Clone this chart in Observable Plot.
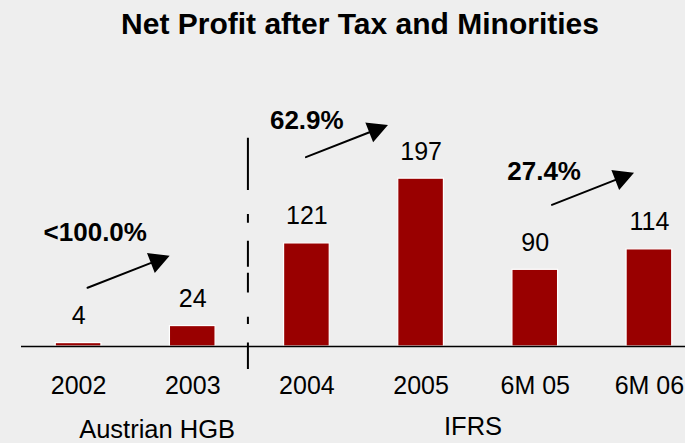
<!DOCTYPE html>
<html>
<head>
<meta charset="utf-8">
<script src="https://cdn.jsdelivr.net/npm/d3@7"></script>
<script src="https://cdn.jsdelivr.net/npm/@observablehq/plot@0.6"></script>
<style>
  html, body { margin: 0; padding: 0; background: #eeeeee; }
  body { width: 685px; height: 443px; overflow: hidden; font-family: "Liberation Sans", Arial, sans-serif; }
  #title { height: 50px; box-sizing: border-box; padding-top: 9px; padding-left: 35px; line-height: 30px;
           font-size: 30px; font-weight: bold; text-align: center; color: #000; }
  #chart svg { display: block; }
</style>
</head>
<body>
<div id="title">Net Profit after Tax and Minorities</div>
<div id="chart"></div>
<script>
// ---- data ----
const categories = ["2002", "2003", "2004", "2005", "6M 05", "6M 06"];
const profits = [4, 24, 121, 197, 90, 114];
const growthLabels = ["<100.0%", "62.9%", "27.4%"];
const growthAnchorCategory = ["2002", "2004", "6M 05"];
const groupLabels = ["Austrian HGB", "IFRS"];
const groupAnchorCategory = ["2002", "2005"];

// ---- annotation layout (data units for y, pixel nudges for x) ----
const arrowStartValue = [68.9, 222.2, 166.3];
const arrowDx = [9, -1, 16.7];
const labelValue = [124.4, 254.7, 195.7];
const labelDx = [-35, -37, -28];
const groupDx = [78.5, 52];
const groupDy = [91.8, 88];

const bars = categories.map((c, i) => ({category: c, value: profits[i]}));

const arrowShape = {
  draw(ctx, l) {
    const hl = 17, hw = 9;
    ctx.moveTo(0, 0);
    ctx.lineTo(0, -(l - hl));
    ctx.moveTo(-hw, -(l - hl));
    ctx.lineTo(0, -l);
    ctx.lineTo(hw, -(l - hl));
    ctx.closePath();
  }
};

const pxPerUnit = 0.852;
const baseY = 296;

const marks = [
  Plot.barY(bars, {x: "category", y: "value", fill: "#990000", stroke: "white", strokeWidth: 1.2}),
  Plot.ruleY([0], {stroke: "black", strokeWidth: 1.5}),
  Plot.text(bars, {x: "category", y: "value", text: d => String(d.value), dy: -19,
                   lineAnchor: "bottom", fontSize: 25, fill: "black"}),
  Plot.text(categories, {x: d => d, y: d => 0, text: d => d, dy: 47.3,
                         lineAnchor: "bottom", fontSize: 25, fill: "black"}),
  Plot.ruleX(["2004"], {x: d => d, y1: -27, y2: 244.5, dx: -59, stroke: "black", strokeWidth: 2,
                        strokeDasharray: "26.6,18.4,7.3,24.3,19.7,6,26,18,8.7,24,52.3"}),
  ...groupLabels.map((g, i) => Plot.text([g], {x: () => groupAnchorCategory[i], y: () => 0, text: d => d,
                         dx: groupDx[i], dy: groupDy[i], lineAnchor: "bottom", fontSize: 25.5, fill: "black"})),
  ...growthLabels.map((g, i) => Plot.text([g], {x: () => growthAnchorCategory[i], y: () => labelValue[i], text: d => d,
                         dx: labelDx[i], textAnchor: "start", lineAnchor: "bottom", fontSize: 26, fontWeight: "bold", fill: "black"})),
  ...growthLabels.map((g, i) => Plot.vector([g], {x: () => growthAnchorCategory[i], y: () => arrowStartValue[i],
                         dx: arrowDx[i], length: 86, rotate: 68.6, anchor: "start", shape: arrowShape,
                         stroke: "black", fill: "black", strokeWidth: 2, strokeLinejoin: "miter"}))
];

const chart = Plot.plot({
  width: 685,
  height: 393,
  marginLeft: 21,
  marginRight: 0,
  marginTop: 0,
  marginBottom: 0,
  x: {type: "band", domain: categories, range: [21, 706], paddingInner: 0.6, paddingOuter: 0.3, round: false, axis: null},
  y: {domain: [0, 340], range: [baseY, baseY - 340 * pxPerUnit], axis: null},
  style: {background: "transparent", fontFamily: "'Liberation Sans', Arial, sans-serif", overflow: "visible"},
  marks
});
document.getElementById("chart").appendChild(chart);
</script>
</body>
</html>
